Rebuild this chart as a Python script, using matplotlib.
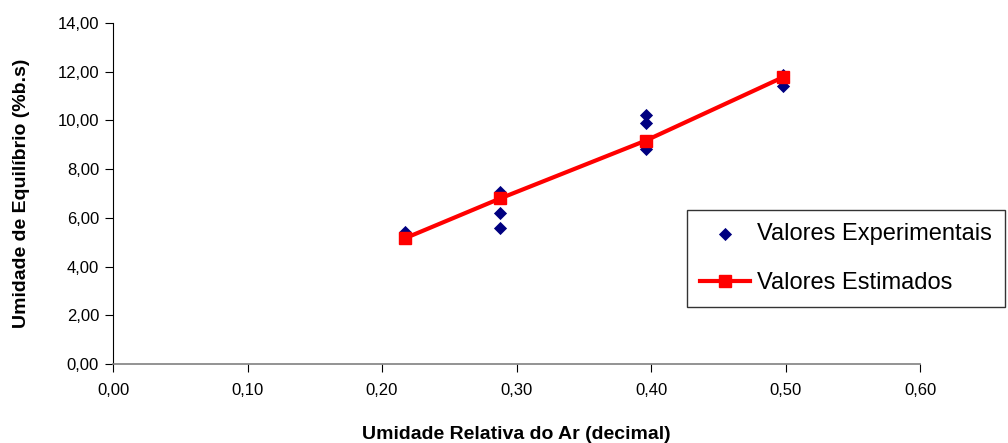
import matplotlib
matplotlib.use("Agg")
import matplotlib.pyplot as plt
from matplotlib.ticker import FuncFormatter, MultipleLocator

plt.rcParams['font.family'] = ['Liberation Sans', 'DejaVu Sans']

# Data
exp_x = [0.217, 0.217, 0.288, 0.288, 0.288, 0.396, 0.396, 0.396, 0.498, 0.498, 0.498]
exp_y = [5.43, 5.35, 7.07, 6.19, 5.57, 10.22, 9.91, 8.81, 11.86, 11.41, 11.60]
est_x = [0.217, 0.288, 0.396, 0.498]
est_y = [5.16, 6.80, 9.17, 11.77]

label_exp = "Valores Experimentais"
label_est = "Valores Estimados"
xlabel = "Umidade Relativa do Ar (decimal)"
ylabel = "Umidade de Equilíbrio (%b.s)"

fig = plt.figure(figsize=(10.08, 4.43), dpi=100)
ax = fig.add_axes([113/1008, 1-364/443, (920-113)/1008, (364-23)/443])

ax.scatter(exp_x, exp_y, marker='D', s=45, color='#000080', zorder=3, label=label_exp, linewidths=0)
ax.plot(est_x, est_y, color='#FF0000', lw=3, marker='s', ms=9, zorder=4, label=label_est)

ax.set_xlim(0, 0.6)
ax.set_ylim(0, 14)
ax.xaxis.set_major_locator(MultipleLocator(0.1))
ax.yaxis.set_major_locator(MultipleLocator(2))
fmt = FuncFormatter(lambda v, p: f"{v:.2f}".replace('.', ','))
ax.xaxis.set_major_formatter(fmt)
ax.yaxis.set_major_formatter(fmt)

for s in ['top', 'right']:
    ax.spines[s].set_visible(False)
ax.spines['left'].set_color('black')
ax.spines['bottom'].set_color('#808080')
ax.spines['bottom'].set_linewidth(1.2)
ax.tick_params(axis='both', direction='out', length=6, labelsize=12, colors='black')
ax.tick_params(axis='x', pad=8)
ax.tick_params(axis='y', pad=4)

ax.set_xlabel(xlabel, fontsize=14, fontweight='bold', labelpad=20)
ax.set_ylabel(ylabel, fontsize=14, fontweight='bold', labelpad=20)

leg = fig.legend(loc='upper left', bbox_to_anchor=(687/1008, 1-210/443), frameon=True,
                 fontsize=17, fancybox=False, edgecolor='black', borderpad=0.55,
                 handlelength=2.1, labelspacing=1.15, handletextpad=0.3, borderaxespad=0)
leg.get_frame().set_linewidth(1.0)

fig.savefig("out.png", dpi=100)
